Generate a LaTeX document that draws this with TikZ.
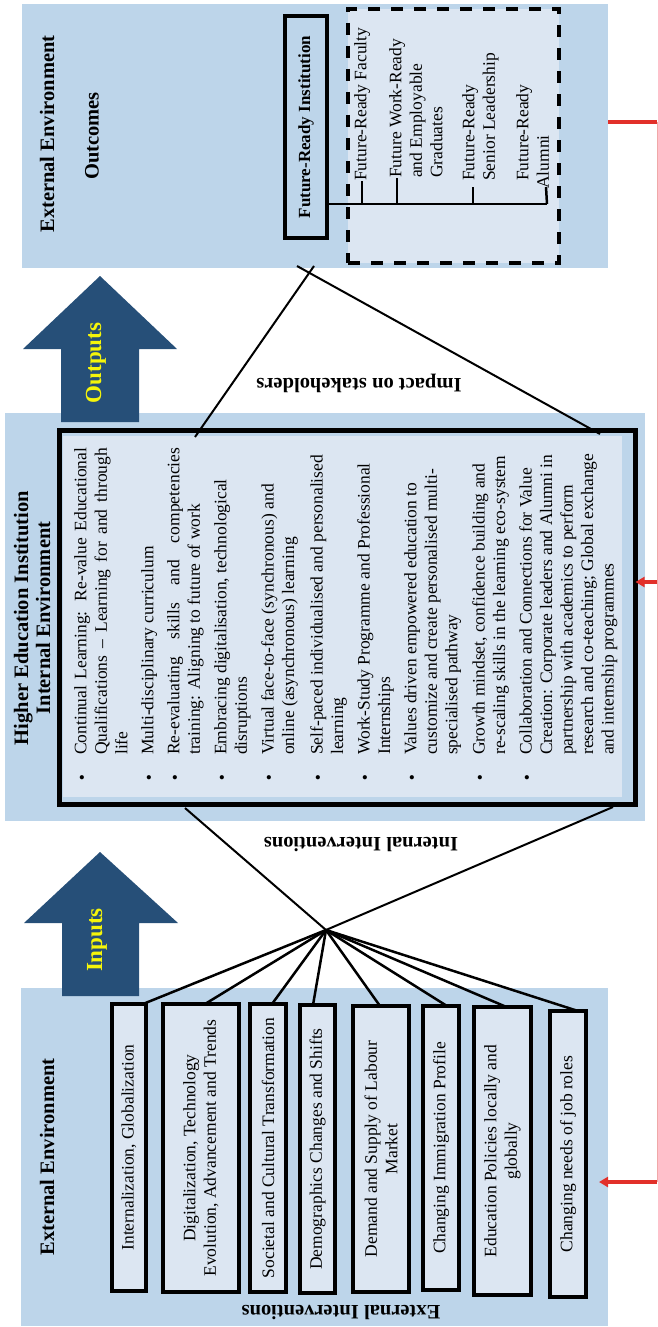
\documentclass[tikz,border=0pt]{standalone}
\usepackage{fontspec}
\setmainfont{Liberation Serif}
\usetikzlibrary{arrows.meta,calc}
\definecolor{panelblue}{HTML}{BDD5EA}
\definecolor{paleblue}{HTML}{DCE6F2}
\definecolor{arrowblue}{HTML}{264F78}
\definecolor{labelyellow}{HTML}{F5F50A}
\definecolor{fbred}{HTML}{E2302A}
\definecolor{fbpink}{HTML}{F0A8A8}
\newcommand\jline[1]{\makebox[307pt][s]{#1}}
\begin{document}
\begin{tikzpicture}[x=1pt,y=1pt,
  panel/.style={fill=panelblue, draw=none, inner sep=0, outer sep=0},
  rtext/.style={rotate=90, inner sep=0, font=\fontsize{17.5}{20.5}\selectfont, align=left, anchor=north west},
  title/.style={rotate=90, inner sep=0, font=\bfseries\fontsize{20.5}{22}\selectfont, align=center},
  flip/.style={rotate=180, inner sep=0, font=\bfseries\fontsize{20.5}{22}\selectfont},
  factor/.style={rotate=90, draw, line width=4.5pt, fill=paleblue, inner sep=0, outer sep=0, align=center, font=\fontsize{17.5}{20.5}\selectfont},
  bul/.style={inner sep=0, font=\fontsize{17.5}{20.5}\selectfont},
  arrowlabel/.style={rotate=90, inner sep=0, text=labelyellow, font=\bfseries\fontsize{23}{25}\selectfont},
  link/.style={draw, line width=2.5pt},
  thinlink/.style={draw, line width=2pt},
  fb/.style={draw=fbred, line width=4pt},
  fbarrow/.style={draw=fbred, line width=3.5pt, -{Triangle[length=9pt,width=10pt]}},
  fbline/.style={draw=fbpink, line width=0.9pt}
]
\useasboundingbox (0,0) rectangle (658,-1327);

% panels
\node[panel, minimum width=586, minimum height=264] (outc) at (315,-136) {};
\node[panel, minimum width=640, minimum height=408] (hei) at (325,-617) {};
\node[panel, minimum width=587, minimum height=338] (ext) at (314.5,-1157) {};

% ---------- Outcomes ----------
\node[title] (outt1) at (47,-134) {External Environment};
\node[title] (outt2) at (92,-136) {Outcomes};
\node[rotate=90, draw, line width=4pt, fill=panelblue, minimum width=222, minimum height=42, inner sep=0, outer sep=0,
      font=\bfseries\fontsize{17}{20}\selectfont] (fri) at (306,-127) {Future-Ready Institution};
\node[draw, line width=3.5pt, dash pattern=on 12pt off 11pt, fill=paleblue, minimum width=211, minimum height=254,
      inner sep=0, outer sep=0] (stake) at (453.5,-136) {};
\node[rtext] (o1) at (354,-181) {Future-Ready Faculty};
\node[rtext] (o2) at (389,-178) {Future Work-Ready\\and Employable\\Graduates};
\node[rtext] (o3) at (462,-181) {Future-Ready\\Senior Leadership};
\node[rtext] (o4) at (516,-181) {Future-Ready\\\hspace*{-8pt}Alumni};
\coordinate (tj) at (547,-204);
\draw[link] (fri.south |- tj) -- (tj);
\draw[link] ([xshift=8pt]o1.north west) -- ([xshift=8pt]o1.north west |- tj);
\draw[link] ([xshift=8pt]o2.north west) -- ([xshift=8pt]o2.north west |- tj);
\draw[link] ([xshift=11pt,yshift=-6pt]o3.north west) -- ([xshift=11pt]o3.north west |- tj);
\draw[link] ([xshift=30pt,yshift=-6pt]o4.north west) -- (tj);

% ---------- Outputs arrow ----------
\fill[arrowblue] (61,-422) -- (61,-349) -- (23,-349) -- (100,-276) -- (177,-349) -- (139,-349) -- (139,-422) -- cycle;
\node[arrowlabel] (outputs) at (96,-363) {Outputs};

% ---------- HEI ----------
\node[title] (heit) at (32,-618) {Higher Education Institution\\Internal Environment};
\node[draw, line width=4.5pt, fill=panelblue, minimum width=576, minimum height=374, inner sep=0, outer sep=0] (ibox) at (347.5,-617.5) {};
\fill[paleblue] (63,-436) rectangle (622,-797);

\node[rtext] (i1) at (74,-755) {\jline{Continual Learning: Re-value Educational}\\\jline{Qualifications – Learning for and through}\\life};
\node[rtext] (i2) at (141,-755) {Multi-disciplinary curriculum};
\node[rtext] (i3) at (167,-755) {\jline{Re-evaluating skills and competencies}\\training: Aligning to future of work};
\node[rtext] (i4) at (214,-755) {Embracing digitalisation, technological\\disruptions};
\node[rtext] (i5) at (261,-755) {Virtual face-to-face (synchronous) and\\online (asynchronous) learning};
\node[rtext] (i6) at (310,-755) {Self-paced individualised and personalised\\learning};
\node[rtext] (i7) at (357,-755) {Work-Study Programme and Professional\\Internships};
\node[rtext] (i8) at (404,-755) {Values driven empowered education to\\customize and create personalised multi-\\specialised pathway};
\node[rtext] (i9) at (472,-755) {Growth mindset, confidence building and\\re-scaling skills in the learning eco-system};
\node[rtext] (i10) at (519,-755) {Collaboration and Connections for Value\\Creation: Corporate leaders and Alumni in\\partnership with academics to perform\\research and co-teaching; Global exchange\\and internship programmes};
\foreach \n/\x in {1/82,2/149,3/175,4/222,5/269,6/318,7/365,8/412,9/480,10/527}
  \node[bul] (d\n) at (\x,-780) {\textbullet};

% impact lines
\coordinate (impL) at (195,-437);
\coordinate (impR) at (600,-434);
\coordinate (impLt) at (314,-266);
\coordinate (impRt) at (297,-266);
\draw[thinlink] (impL) -- (impLt);
\draw[thinlink] (impR) -- (impRt);
\node[flip] (impact) at (359,-383) {Impact on stakeholders};

% ---------- Inputs arrow ----------
\fill[arrowblue] (62,-996) -- (62,-923) -- (24,-923) -- (100,-852) -- (178,-923) -- (139,-923) -- (139,-996) -- cycle;
\node[arrowlabel] (inputs) at (97,-940) {Inputs};

% internal interventions
\coordinate (hub) at (326,-930);
\coordinate (intL) at (185,-808);
\coordinate (intR) at (613,-807);
\draw[thinlink] (intL) -- (hub) -- (intR);
\node[flip] (intint) at (361,-845) {Internal Interventions};

% ---------- External Environment ----------
\node[title] (extt) at (47,-1157) {External Environment};
\node[factor, minimum width=287, minimum height=34] (b1) at (129,-1147.5) {Internalization, Globalization};
\node[factor, minimum width=288, minimum height=76] (b2) at (201,-1148) {Digitalization, Technology\\Evolution, Advancement and Trends};
\node[factor, minimum width=288, minimum height=36] (b3) at (268,-1148) {Societal and Cultural Transformation};
\node[factor, minimum width=288, minimum height=35] (b4) at (317.5,-1149) {Demographics Changes and Shifts};
\node[factor, minimum width=286, minimum height=56] (b5) at (381,-1149) {Demand and Supply of Labour\\Market};
\node[factor, minimum width=284, minimum height=36] (b6) at (441,-1148) {Changing Immigration Profile};
\node[factor, minimum width=288, minimum height=57] (b7) at (502.5,-1151) {Education Policies locally and\\globally};
\node[factor, minimum width=286, minimum height=36] (b8) at (568,-1154) {Changing needs of job roles};
\foreach \b/\s in {b1/14,b2/4,b3/4,b4/-4.5,b5/-1,b6/6,b7/4,b8/10}
  \draw[link] (hub) -- ([xshift=\s pt]\b.east);
\node[flip] (extint) at (341,-1312) {External Interventions};

% ---------- feedback ----------
\coordinate (fbtop) at (657,-122);
\coordinate (fbmid) at (657,-582);
\coordinate (fbbot) at (657,-1182);
\draw[fbline] (fbtop) -- (fbbot);
\draw[fb] (outc.east |- fbtop) -- (fbtop);
\draw[fbarrow] (fbmid) -- (ibox.east |- fbmid);
\draw[fbarrow] (fbbot) -- ($(ext.east |- fbbot)+(-9,0)$);
\end{tikzpicture}
\end{document}
